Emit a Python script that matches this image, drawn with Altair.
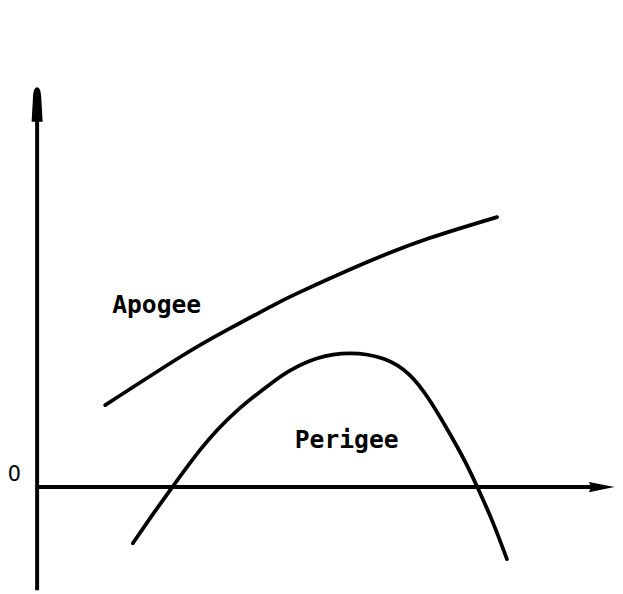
import altair as alt
import pandas as pd

# ---- data (arbitrary units, 0 on the horizontal axis) ----
apogee_x = [1.38, 2.94, 3.88, 4.74, 5.28, 6.62, 7.94, 9.32]
apogee_y = [1.66, 2.66, 3.20, 3.66, 3.93, 4.53, 5.04, 5.47]

perigee_x = [1.94, 2.34, 2.74, 3.34, 4.02, 4.74, 5.14, 5.68, 6.34, 7.02, 7.54, 7.94,
             8.34, 8.68, 8.92, 9.22, 9.52]
perigee_y = [-1.14, -0.56, 0.00, 0.80, 1.52, 2.10, 2.37, 2.61, 2.71, 2.60, 2.28, 1.78,
             1.12, 0.50, 0.00, -0.68, -1.46]

label_text = ["Apogee", "Perigee"]
label_x = [1.52, 5.22]
label_y = [3.52, 0.80]

zero_label = ["0"]

X_DOMAIN = [-0.59, 11.71]
Y_DOMAIN = [-2.09, 9.63]
Y_AXIS_TOP = 7.6
X_AXIS_END = 11.4

xs = alt.Scale(domain=X_DOMAIN, nice=False, zero=False)
ys = alt.Scale(domain=Y_DOMAIN, nice=False, zero=False)

curves = pd.concat([
    pd.DataFrame({"x": apogee_x, "y": apogee_y, "series": "Apogee"}),
    pd.DataFrame({"x": perigee_x, "y": perigee_y, "series": "Perigee"}),
])

lines = alt.Chart(curves).mark_line(
    color="black", strokeWidth=3.8, interpolate="natural", strokeCap="round"
).encode(
    x=alt.X("x:Q", scale=xs, axis=None),
    y=alt.Y("y:Q", scale=ys, axis=None),
    detail="series:N",
)

vaxis = alt.Chart(pd.DataFrame({"x": [0], "y": [Y_DOMAIN[0]], "y2": [Y_AXIS_TOP]})).mark_rule(
    color="black", strokeWidth=4
).encode(x=alt.X("x:Q", scale=xs, axis=None), y=alt.Y("y:Q", scale=ys, axis=None), y2="y2:Q")

haxis = alt.Chart(pd.DataFrame({"x": [0], "x2": [X_AXIS_END], "y": [0]})).mark_rule(
    color="black", strokeWidth=4
).encode(x=alt.X("x:Q", scale=xs, axis=None), x2="x2:Q", y=alt.Y("y:Q", scale=ys, axis=None))

up_arrow = alt.Chart(pd.DataFrame({"x": [0], "y": [7.75]})).mark_point(
    shape="M0,-1C0.14,-1 0.22,-0.8 0.24,-0.4L0.32,1L-0.32,1L-0.24,-0.4C-0.22,-0.8 -0.14,-1 0,-1Z",
    size=1225, filled=True, color="black", opacity=1
).encode(x=alt.X("x:Q", scale=xs, axis=None), y=alt.Y("y:Q", scale=ys, axis=None))

right_arrow = alt.Chart(pd.DataFrame({"x": [11.44], "y": [0]})).mark_point(
    shape="M1,0L-1,0.4L-0.8,0L-1,-0.4Z",
    size=676, filled=True, color="black", opacity=1
).encode(x=alt.X("x:Q", scale=xs, axis=None), y=alt.Y("y:Q", scale=ys, axis=None))

labels = alt.Chart(pd.DataFrame({"t": label_text, "x": label_x, "y": label_y})).mark_text(
    font="DejaVu Sans Mono", fontWeight="bold", fontSize=25, align="left", baseline="alphabetic", color="black"
).encode(x=alt.X("x:Q", scale=xs, axis=None), y=alt.Y("y:Q", scale=ys, axis=None), text="t:N")

zero = alt.Chart(pd.DataFrame({"t": zero_label, "x": [-0.46], "y": [0.12]})).mark_text(
    font="DejaVu Sans", fontSize=21, align="center", baseline="alphabetic", color="black"
).encode(x=alt.X("x:Q", scale=xs, axis=None), y=alt.Y("y:Q", scale=ys, axis=None), text="t:N")

chart = alt.layer(vaxis, haxis, lines, up_arrow, right_arrow, labels, zero).properties(
    width=615, height=586, padding=0, autosize=alt.AutoSizeParams(type="none"), background="white"
).configure_view(stroke=None)

chart.save("out.html", embed_options={"renderer": "svg", "actions": False})
